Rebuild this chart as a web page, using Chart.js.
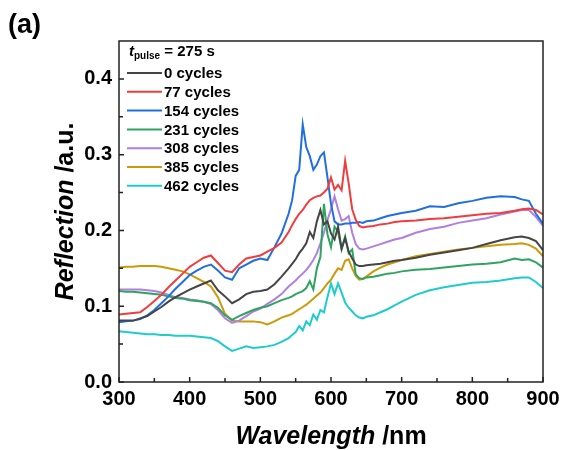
<!DOCTYPE html>
<html>
<head>
<meta charset="utf-8">
<script src="https://cdn.jsdelivr.net/npm/chart.js@4.4.0/dist/chart.umd.min.js"></script>
<style>
  html, body { margin: 0; padding: 0; background: #fff; }
  #wrap { position: relative; width: 565px; height: 450px; }
</style>
</head>
<body>
<div id="wrap"><canvas id="reflChart"></canvas></div>
<script>
// wavelength grid (nm), shared by all series
const wavelengths = [
  300, 310, 320, 330, 340, 350, 360, 370, 380, 390, 400,
  410, 420, 430, 440, 450, 460, 470, 480, 490, 500, 510, 520, 530, 540,
  545, 550, 555, 560, 565, 570, 575, 580, 585, 590, 595, 600, 605, 610, 615, 620, 625, 630, 635, 640, 645, 650,
  660, 670, 680, 690, 700, 720, 740, 760, 780, 800, 820, 840, 860, 870, 880, 890, 900
];

const cycles0 = [
  0.081, 0.081, 0.081, 0.084, 0.087, 0.093, 0.099, 0.106, 0.112, 0.117, 0.122,
  0.126, 0.130, 0.134, 0.121, 0.113, 0.104, 0.109, 0.116, 0.119, 0.120, 0.122, 0.129, 0.139, 0.150,
  0.156, 0.162, 0.170, 0.176, 0.183, 0.198, 0.190, 0.212, 0.227, 0.208, 0.212, 0.196, 0.188, 0.205, 0.176, 0.190, 0.172, 0.163, 0.155, 0.153, 0.153, 0.154,
  0.155, 0.156, 0.158, 0.160, 0.161, 0.164, 0.168, 0.171, 0.174, 0.177, 0.182, 0.187, 0.191, 0.192, 0.190, 0.186, 0.174
];
const cycles77 = [
  0.089, 0.090, 0.091, 0.092, 0.099, 0.107, 0.115, 0.125, 0.134, 0.143, 0.152,
  0.158, 0.164, 0.167, 0.157, 0.147, 0.145, 0.155, 0.163, 0.165, 0.167, 0.172, 0.177, 0.184, 0.198,
  0.207, 0.215, 0.222, 0.227, 0.234, 0.240, 0.243, 0.245, 0.246, 0.250, 0.255, 0.270, 0.254, 0.260, 0.253, 0.292, 0.262, 0.228, 0.214, 0.206, 0.204, 0.205,
  0.206, 0.208, 0.209, 0.211, 0.212, 0.213, 0.215, 0.216, 0.218, 0.220, 0.222, 0.223, 0.226, 0.228, 0.229, 0.227, 0.221
];
const cycles154 = [
  0.079, 0.080, 0.081, 0.083, 0.088, 0.095, 0.104, 0.113, 0.123, 0.132, 0.141,
  0.147, 0.152, 0.155, 0.147, 0.138, 0.135, 0.150, 0.155, 0.160, 0.163, 0.161, 0.178, 0.196, 0.222,
  0.240, 0.272, 0.280, 0.340, 0.310, 0.298, 0.280, 0.287, 0.298, 0.303, 0.270, 0.235, 0.212, 0.208, 0.208, 0.209, 0.209, 0.210, 0.210, 0.211, 0.210, 0.212,
  0.213, 0.216, 0.219, 0.221, 0.223, 0.226, 0.232, 0.231, 0.236, 0.239, 0.243, 0.245, 0.244, 0.241, 0.239, 0.222, 0.209
];
const cycles231 = [
  0.120, 0.119, 0.119, 0.118, 0.117, 0.116, 0.115, 0.113, 0.111, 0.110, 0.108,
  0.107, 0.106, 0.104, 0.098, 0.088, 0.082, 0.087, 0.091, 0.095, 0.098, 0.100, 0.104, 0.108, 0.111,
  0.113, 0.116, 0.118, 0.120, 0.124, 0.133, 0.122, 0.150, 0.165, 0.235, 0.195, 0.178, 0.205, 0.198, 0.175, 0.192, 0.170, 0.175, 0.142, 0.137, 0.136, 0.138,
  0.139, 0.141, 0.143, 0.144, 0.146, 0.148, 0.149, 0.151, 0.153, 0.155, 0.156, 0.158, 0.163, 0.161, 0.162, 0.158, 0.151
];
const cycles308 = [
  0.122, 0.122, 0.122, 0.122, 0.121, 0.120, 0.118, 0.115, 0.112, 0.111, 0.109,
  0.108, 0.106, 0.103, 0.095, 0.084, 0.078, 0.081, 0.087, 0.093, 0.097, 0.103, 0.109, 0.116, 0.126,
  0.130, 0.134, 0.139, 0.143, 0.148, 0.154, 0.161, 0.170, 0.183, 0.197, 0.214, 0.228, 0.245, 0.228, 0.213, 0.215, 0.219, 0.197, 0.182, 0.176, 0.175, 0.176,
  0.179, 0.182, 0.185, 0.188, 0.190, 0.197, 0.202, 0.205, 0.210, 0.213, 0.216, 0.221, 0.225, 0.227, 0.227, 0.218, 0.206
];
const cycles385 = [
  0.151, 0.152, 0.152, 0.153, 0.153, 0.153, 0.152, 0.150, 0.148, 0.146, 0.142,
  0.137, 0.132, 0.126, 0.112, 0.090, 0.081, 0.080, 0.080, 0.080, 0.079, 0.076, 0.080, 0.085, 0.088,
  0.090, 0.093, 0.096, 0.099, 0.102, 0.106, 0.110, 0.114, 0.118, 0.124, 0.130, 0.135, 0.143, 0.150, 0.148, 0.160, 0.162, 0.150, 0.140, 0.135, 0.136, 0.139,
  0.146, 0.151, 0.155, 0.158, 0.161, 0.166, 0.169, 0.172, 0.175, 0.177, 0.179, 0.181, 0.182, 0.183, 0.181, 0.176, 0.166
];
const cycles462 = [
  0.067, 0.066, 0.065, 0.064, 0.063, 0.063, 0.062, 0.062, 0.061, 0.061, 0.061,
  0.060, 0.059, 0.058, 0.054, 0.047, 0.041, 0.044, 0.047, 0.045, 0.046, 0.047, 0.049, 0.053, 0.058,
  0.062, 0.066, 0.074, 0.068, 0.080, 0.075, 0.089, 0.082, 0.095, 0.092, 0.112, 0.130, 0.116, 0.130, 0.118, 0.105, 0.098, 0.093, 0.088, 0.085, 0.084, 0.086,
  0.088, 0.092, 0.096, 0.101, 0.106, 0.115, 0.121, 0.125, 0.128, 0.131, 0.132, 0.134, 0.137, 0.138, 0.138, 0.132, 0.124
];

const seriesLabels = ['0 cycles', '77 cycles', '154 cycles', '231 cycles', '308 cycles', '385 cycles', '462 cycles'];
const seriesValues = [cycles0, cycles77, cycles154, cycles231, cycles308, cycles385, cycles462];
const seriesColors = ['#454545', '#f03c3c', '#1f6fe0', '#2fa360', '#b07fe0', '#cc9a08', '#1fcccc'];

const xTicks = [300, 400, 500, 600, 700, 800, 900];
const xMinor = [350, 450, 550, 650, 750, 850];
const yTicks = [0, 0.1, 0.2, 0.3, 0.4];
const yMinor = [0.05, 0.15, 0.25, 0.35];

const FONT = "'Liberation Sans', Arial, sans-serif";

// draw runs of text with mixed styles, starting at x
function drawRuns(ctx, runs, x, y) {
    runs.forEach(r => {
        ctx.font = r.font;
        ctx.fillText(r.text, x, y + (r.dy || 0));
        x += ctx.measureText(r.text).width;
    });
    return x;
}
function runsWidth(ctx, runs) {
    let w = 0;
    runs.forEach(r => { ctx.font = r.font; w += ctx.measureText(r.text).width; });
    return w;
}

const decorPlugin = {
    id: 'decor',
    afterDraw(chart) {
        const { ctx, chartArea: a, scales } = chart;
        const xs = scales.x, ys = scales.y;
        ctx.save();

        // frame
        ctx.strokeStyle = '#222';
        ctx.lineWidth = 1.5;
        ctx.strokeRect(a.left, a.top, a.right - a.left, a.bottom - a.top);

        // inward ticks
        ctx.beginPath();
        xTicks.forEach(v => { const px = xs.getPixelForValue(v); ctx.moveTo(px, a.bottom); ctx.lineTo(px, a.bottom - 5); });
        xMinor.forEach(v => { const px = xs.getPixelForValue(v); ctx.moveTo(px, a.bottom); ctx.lineTo(px, a.bottom - 4); });
        yTicks.forEach(v => { const py = ys.getPixelForValue(v); ctx.moveTo(a.left, py); ctx.lineTo(a.left + 5, py); });
        yMinor.forEach(v => { const py = ys.getPixelForValue(v); ctx.moveTo(a.left, py); ctx.lineTo(a.left + 4, py); });
        ctx.stroke();

        ctx.fillStyle = '#000';
        ctx.textBaseline = 'middle';
        ctx.textAlign = 'left';

        // panel label
        ctx.font = 'bold 27px ' + FONT;
        ctx.fillText('(a)', 8, 26);

        // x title
        const xRuns = [
            { text: 'Wavelength', font: 'italic bold 25px ' + FONT },
            { text: ' /nm', font: 'bold 25px ' + FONT }
        ];
        const cx = (a.left + a.right) / 2;
        drawRuns(ctx, xRuns, cx - runsWidth(ctx, xRuns) / 2, 437);

        // y title (rotated)
        const yRuns = [
            { text: 'Reflection', font: 'italic bold 25px ' + FONT },
            { text: ' /a.u.', font: 'bold 25px ' + FONT }
        ];
        ctx.save();
        ctx.translate(66, (a.top + a.bottom) / 2);
        ctx.rotate(-Math.PI / 2);
        drawRuns(ctx, yRuns, -runsWidth(ctx, yRuns) / 2, 0);
        ctx.restore();

        // legend
        const lx = a.left + 8;
        drawRuns(ctx, [
            { text: 't', font: 'italic bold 15px ' + FONT },
            { text: 'pulse', font: 'bold 10px ' + FONT, dy: 4 },
            { text: ' = 275 s', font: 'bold 15px ' + FONT }
        ], lx + 2, 52);
        chart.data.datasets.forEach((ds, i) => {
            const ry = 73 + i * 18.8;
            ctx.strokeStyle = ds.borderColor;
            ctx.lineWidth = 2;
            ctx.beginPath();
            ctx.moveTo(lx, ry);
            ctx.lineTo(lx + 35, ry);
            ctx.stroke();
            ctx.font = 'bold 15px ' + FONT;
            ctx.fillText(ds.label, lx + 37, ry + 1);
        });
        ctx.restore();
    }
};

const ctx = document.getElementById('reflChart').getContext('2d');
new Chart(ctx, {
    type: 'line',
    data: {
        datasets: seriesValues.map((vals, i) => ({
            label: seriesLabels[i],
            data: wavelengths.map((w, j) => ({ x: w, y: vals[j] })),
            borderColor: seriesColors[i],
            backgroundColor: seriesColors[i],
            borderWidth: 2,
            pointRadius: 0,
            tension: 0,
            fill: false
        }))
    },
    options: {
        responsive: true,
        maintainAspectRatio: false,
        animation: false,
        layout: { padding: { top: 41, right: 22, left: 0, bottom: 0 } },
        plugins: {
            legend: { display: false },
            tooltip: { enabled: false }
        },
        scales: {
            x: {
                type: 'linear',
                min: 300,
                max: 900,
                afterBuildTicks: s => { s.ticks = xTicks.map(v => ({ value: v })); },
                afterFit: s => { s.height = 68; },
                grid: { display: false, drawTicks: false },
                border: { display: false },
                ticks: {
                    padding: 5,
                    color: '#000',
                    maxRotation: 0,
                    font: { family: FONT, size: 20, weight: 'bold' },
                    callback: v => String(v)
                }
            },
            y: {
                min: 0,
                max: 0.45,
                afterBuildTicks: s => { s.ticks = yTicks.map(v => ({ value: v })); },
                afterFit: s => { s.width = 119; },
                grid: { display: false, drawTicks: false },
                border: { display: false },
                ticks: {
                    padding: 7,
                    color: '#000',
                    font: { family: FONT, size: 20, weight: 'bold' },
                    callback: v => v.toFixed(1)
                }
            }
        }
    },
    plugins: [decorPlugin]
});
</script>
</body>
</html>
